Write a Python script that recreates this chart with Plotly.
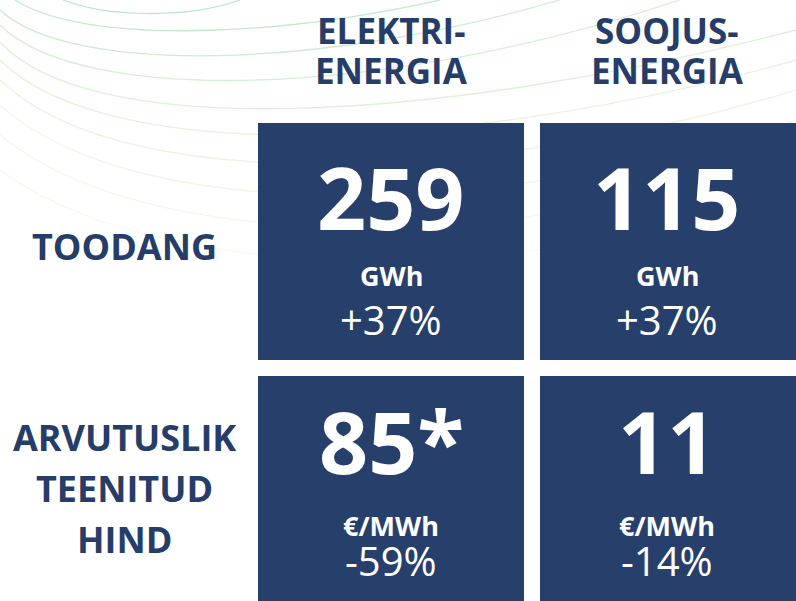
import plotly.graph_objects as go

# ---------------- data ----------------
columns = [["ELEKTRI-", "ENERGIA"], ["SOOJUS-", "ENERGIA"]]
rows = [["TOODANG"], ["ARVUTUSLIK", "TEENITUD", "HIND"]]
units = ["GWh", "€/MWh"]
production = [259, 115]
production_change = ["+37%", "+37%"]
price = [85, 11]
price_mark = ["*", ""]
price_change = ["-59%", "-14%"]

# ---------------- style / geometry ----------------
W, H = 796, 601
NAVY = "#27406b"
TEXT = "#253d68"
FONT = "Open Sans"
cell_w, cell_x0 = 282, 250
cell_h, cell_y0 = 253, 115
gap = 16
col_xshift = [0, -6]
row_shifts = [(45, -34, -78), (54.5, -31, -66)]  # main, unit, change
header_center_py, header_spacing = 50.5, 40
label_center_x_px, label_spacing = 124, 51
label_offsets = [-5, 6]

xr = [(0 - cell_x0) / cell_w - 0.5, (W - cell_x0) / cell_w - 0.5]
yr = [(H - cell_y0) / cell_h - 0.5, (0 - cell_y0) / cell_h - 0.5]

values = [production, price]
z = [[float(v) for v in r] for r in values]

fig = go.Figure(go.Heatmap(
    z=z, x=[0, 1], y=[0, 1], xgap=gap, ygap=gap,
    colorscale=[[0, NAVY], [1, NAVY]], showscale=False, hoverinfo="skip"))

# decorative arcs (pixel coords, cubic bezier)
arcs = [
    ((63, 0), (110, 18), (190, 18), (240, 0)),
    ((15, 0), (80, 42), (260, 40), (440, 0)),
    ((0, 10), (70, 75), (320, 70), (560, 0)),
    ((0, 25), (80, 105), (380, 100), (680, 0)),
    ((0, 42), (90, 140), (430, 125), (796, 30)),
    ((0, 60), (110, 170), (480, 150), (796, 60)),
    ((0, 80), (130, 205), (520, 175), (796, 90)),
    ((0, 105), (150, 240), (560, 205), (796, 120)),
    ((0, 135), (170, 275), (600, 235), (796, 150)),
    ((0, 170), (190, 310), (640, 265), (796, 180)),
]
def P(p):
    return f"{p[0] / W:.5f},{1 - p[1] / H:.5f}"
shapes = []
n = len(arcs)
for i, a in enumerate(arcs):
    t = i / (n - 1)
    r = int(160 + (225 - 160) * t)
    g = int(220 + (232 - 220) * t)
    b = int(180 + (185 - 180) * t)
    alpha = 0.7 - 0.45 * t
    shapes.append(dict(type="path", xref="paper", yref="paper", layer="below",
                       path=f"M {P(a[0])} C {P(a[1])} {P(a[2])} {P(a[3])}",
                       line=dict(color=f"rgba({r},{g},{b},{alpha:.2f})", width=1.3)))

ann = []
# column headers
for c, lines in enumerate(columns):
    k = len(lines)
    for j, ln in enumerate(lines):
        py = header_center_py + (j - (k - 1) / 2) * header_spacing
        ann.append(dict(x=c, xref="x", y=1 - py / H, yref="paper", xshift=col_xshift[c],
                        xanchor="center", yanchor="middle",
                        text=f"<b>{ln}</b>", showarrow=False,
                        font=dict(family=FONT, size=35, color=TEXT)))
# row labels
for r, lines in enumerate(rows):
    k = len(lines)
    for j, ln in enumerate(lines):
        off = label_offsets[r] - (j - (k - 1) / 2) * label_spacing
        ann.append(dict(x=label_center_x_px / W, xref="paper", y=r, yref="y", yshift=off,
                        xanchor="center", yanchor="middle",
                        text=f"<b>{ln}</b>", showarrow=False,
                        font=dict(family=FONT, size=36, color=TEXT)))
# cell contents
main_texts = [[f"{v}" for v in production],
              [f"{v}{m}" for v, m in zip(price, price_mark)]]
change_texts = [production_change, price_change]
for r in range(2):
    s_main, s_unit, s_chg = row_shifts[r]
    for c in range(2):
        common = dict(x=c, y=r, xref="x", yref="y", xshift=col_xshift[c],
                      xanchor="center", yanchor="middle", showarrow=False)
        ann.append(dict(common, yshift=s_main, text=f"<b>{main_texts[r][c]}</b>",
                        font=dict(family=FONT, size=86, color="white")))
        ann.append(dict(common, yshift=s_unit, text=f"<b>{units[r]}</b>",
                        font=dict(family=FONT, size=27, color="white")))
        ann.append(dict(common, yshift=s_chg, text=change_texts[r][c],
                        font=dict(family=FONT, size=40, color="white")))

fig.update_layout(
    width=W, height=H, margin=dict(l=0, r=0, t=0, b=0),
    paper_bgcolor="white", plot_bgcolor="rgba(0,0,0,0)",
    xaxis=dict(visible=False, range=xr, fixedrange=True),
    yaxis=dict(visible=False, range=yr, fixedrange=True),
    shapes=shapes, annotations=ann, showlegend=False,
)
fig.write_html("out.html", config={"displayModeBar": False},
               post_script="document.body.style.margin='0';document.body.style.overflow='hidden';")
